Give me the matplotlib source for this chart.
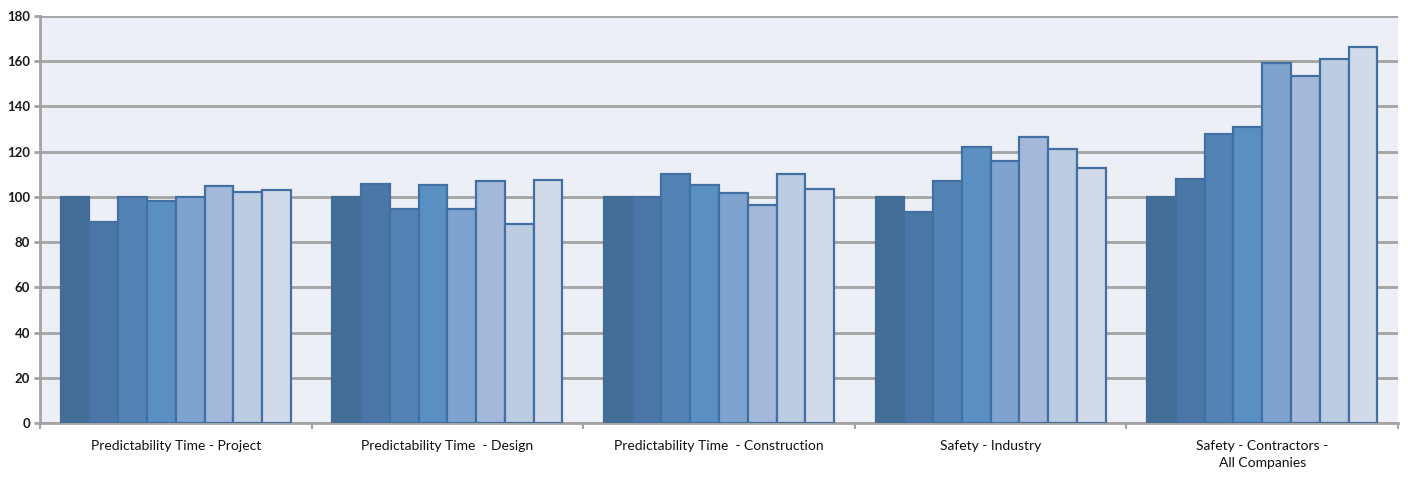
import matplotlib
matplotlib.use("Agg")
import matplotlib.pyplot as plt
import numpy as np

plt.rcParams['font.family'] = ['Lato', 'DejaVu Sans']

categories = [
    "Predictability Time - Project",
    "Predictability Time  - Design",
    "Predictability Time  - Construction",
    "Safety - Industry",
    "Safety - Contractors -\nAll Companies",
]

# one list per series (eight series per category group)
series_1 = [100, 100, 100, 100, 100]
series_2 = [89, 105.6, 100, 93.2, 107.8]
series_3 = [100, 94.8, 110, 107, 128]
series_4 = [98, 105.4, 105.4, 122, 131]
series_5 = [100, 94.8, 101.6, 116, 159]
series_6 = [104.6, 106.9, 96.2, 126.5, 153.6]
series_7 = [102.3, 88, 110, 121, 161]
series_8 = [103, 107.6, 103.7, 112.7, 166.4]
all_series = [series_1, series_2, series_3, series_4,
              series_5, series_6, series_7, series_8]

y_ticks = [0, 20, 40, 60, 80, 100, 120, 140, 160, 180]

fills = ["#436C96", "#4A77A6", "#5383B5", "#5A8FC4",
         "#7FA3CF", "#A4B8D9", "#BCCCE3", "#D2DAEA"]
edges = ["#436C96", "#446FA0", "#436FA2", "#4370A3",
         "#4370A3", "#4370A3", "#4370A3", "#4370A3"]

fig = plt.figure(figsize=(14.08, 4.8), dpi=100)
ax = fig.add_axes([40 / 1408, 57 / 480, 1358 / 1408, 407 / 480])
ax.set_facecolor("#ECEFF5")

n = len(all_series)
group_w = 0.8475
bw = group_w / n
x = np.arange(len(categories))
for i, vals in enumerate(all_series):
    offs = -group_w / 2 + bw * (i + 0.5)
    ax.bar(x + offs, vals, width=bw, color=fills[i], edgecolor=edges[i],
           linewidth=1.6, zorder=3)

ax.set_xlim(-0.5, len(categories) - 0.5)
ax.set_ylim(0, 180)
ax.set_yticks(y_ticks)
ax.set_yticklabels([str(v) for v in y_ticks], fontsize=9.5,
                   fontweight="bold", color="#1a1a1a")
ax.yaxis.grid(True, color="#A3A3A3", linewidth=2.0, zorder=0)
ax.set_axisbelow(True)

ax.set_xticks(x)
ax.set_xticklabels(categories, fontsize=10, color="#111111",
                   linespacing=1.55)
ax.set_xticks(np.arange(len(categories) + 1) - 0.5, minor=True)
ax.tick_params(axis="x", which="major", length=0, pad=12)
ax.tick_params(axis="x", which="minor", length=4, width=1.5,
               color="#A3A3A3", direction="out")
ax.tick_params(axis="y", length=4, width=2, color="#A3A3A3", pad=3)

for side in ["top", "right"]:
    ax.spines[side].set_visible(False)
for side in ["left", "bottom"]:
    ax.spines[side].set_color("#A3A3A3")
    ax.spines[side].set_linewidth(2)

fig.savefig("out.png", dpi=100, facecolor="white")
